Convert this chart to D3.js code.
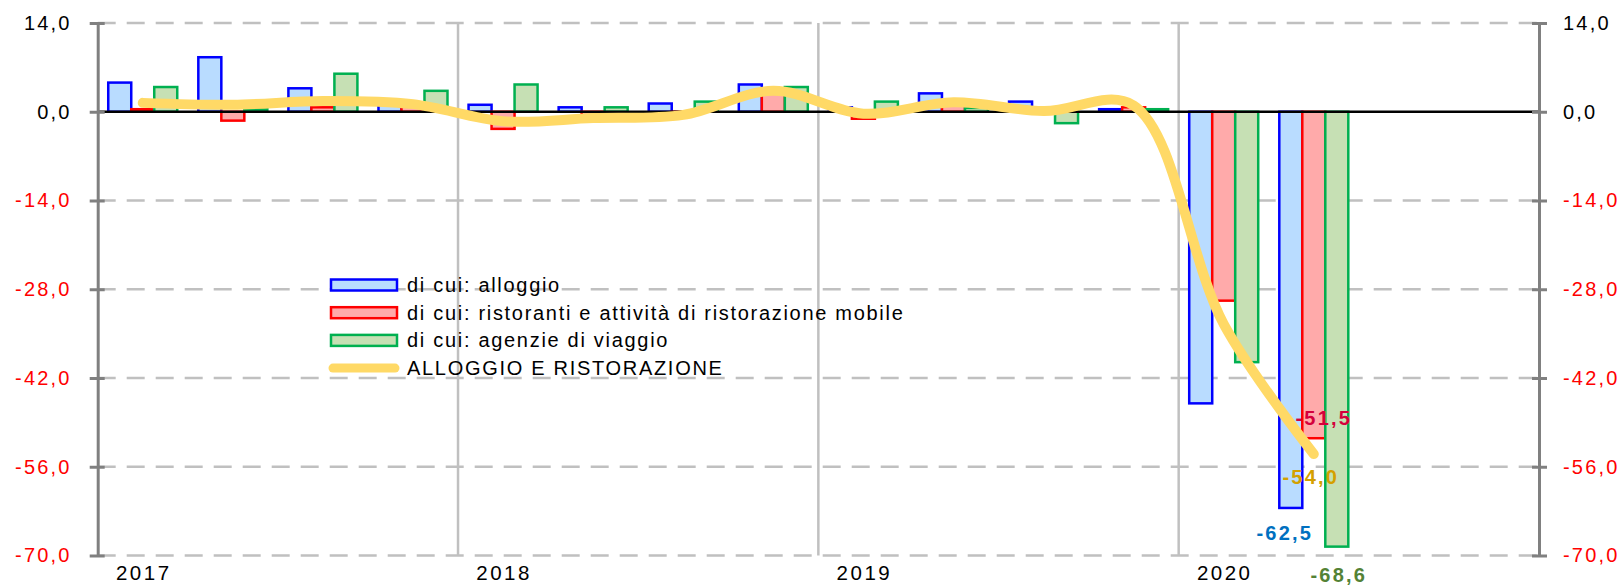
<!DOCTYPE html>
<html>
<head>
<meta charset="utf-8">
<script src="https://cdn.jsdelivr.net/npm/d3@7"></script>
<style>
    body { margin: 0; background: #fff; }
    text { font-family: "Liberation Sans", Arial, sans-serif; }
</style>
</head>
<body>
<div id="ChartWrapper"></div>
<script>
// Quarters from 2017 to 2020 (the last two are still empty)
const quarters = ["2017-T1", "2017-T2", "2017-T3", "2017-T4",
                  "2018-T1", "2018-T2", "2018-T3", "2018-T4",
                  "2019-T1", "2019-T2", "2019-T3", "2019-T4",
                  "2020-T1", "2020-T2", "2020-T3", "2020-T4"];
const years = ["2017", "2018", "2019", "2020"];

const alloggio   = [4.6, 8.6, 3.7, 1.1, 1.1, 0.7, 1.3, 4.3, 0.7, 2.9, 1.6, 0.4, -46.0, -62.5];
const ristoranti = [0.4, -1.4, 0.7, 1.3, -2.7, -0.6, -0.3, 3.4, -1.1, 1.5, 0.2, 0.7, -29.8, -51.5];
const agenzie    = [3.9, 0.4, 6.0, 3.3, 4.3, 0.7, 1.6, 3.9, 1.6, 0.6, -1.8, 0.4, -39.5, -68.6];
const totale     = [1.4, 1.1, 1.7, 1.2, -1.5, -1.0, -0.5, 3.3, -0.3, 1.5, 0.1, 1.0, -33.5, -54.0];

const seriesNames = ["di cui: alloggio",
                     "di cui: ristoranti e attività di ristorazione mobile",
                     "di cui: agenzie di viaggio"];
const lineName = "ALLOGGIO E RISTORAZIONE";
const yTicks = [14, 0, -14, -28, -42, -56, -70];

const Width = 1621, Height = 585;
const Plot = {left: 97.7, right: 1539, top: 23, bottom: 555.5};
const BarStroke = ["#0000ff", "#ff0000", "#00b050"];
const BarFill = ["#b9dcff", "#ffaaaa", "#c6e0b4"];
const LineColor = "#ffd966";

const locale = d3.formatLocale({decimal: ",", thousands: ".", grouping: [3], currency: ["", "€"], minus: "-"});
const fmt = locale.format(".1f");

const Svg = d3.select("#ChartWrapper").append("svg")
    .attr("width", Width).attr("height", Height);

const ScaleX = d3.scaleBand().domain(quarters)
    .range([Plot.left, Plot.right]).paddingInner(0.234).paddingOuter(0.117);
const ScaleSub = d3.scaleBand().domain([0, 1, 2]).range([0, ScaleX.bandwidth()]);
const ScaleY = d3.scaleLinear().domain([14, -70]).range([Plot.top, Plot.bottom]);
const step = ScaleX.step();
const slotCenter = q => ScaleX(q) + ScaleX.bandwidth() / 2;
const barCenter = (q, s) => ScaleX(q) + ScaleSub(s) + ScaleSub.bandwidth() / 2;

// dashed horizontal grid
Svg.append("g").selectAll("line").data(yTicks.filter(v => v != 0)).join("line")
    .attr("x1", Plot.left).attr("x2", Plot.right)
    .attr("y1", v => ScaleY(v)).attr("y2", v => ScaleY(v))
    .attr("stroke", "#c0c0c0").attr("stroke-width", 2.5)
    .attr("stroke-dasharray", "18 11");

// year separators
Svg.append("g").selectAll("line").data(years.slice(1)).join("line")
    .attr("x1", (d, i) => Plot.left + (i + 1) * 4 * step)
    .attr("x2", (d, i) => Plot.left + (i + 1) * 4 * step)
    .attr("y1", Plot.top).attr("y2", Plot.bottom)
    .attr("stroke", "#c0c0c0").attr("stroke-width", 2.5);

// bars
const barData = [alloggio, ristoranti, agenzie];
barData.forEach((vals, s) => {
    Svg.append("g").selectAll("rect").data(vals).join("rect")
        .attr("x", (v, i) => ScaleX(quarters[i]) + ScaleSub(s))
        .attr("width", ScaleSub.bandwidth())
        .attr("y", v => ScaleY(Math.max(0, v)))
        .attr("height", v => Math.abs(ScaleY(v) - ScaleY(0)))
        .attr("fill", BarFill[s]).attr("stroke", BarStroke[s]).attr("stroke-width", 2.5);
});

// zero line
Svg.append("line")
    .attr("x1", Plot.left).attr("x2", Plot.right)
    .attr("y1", ScaleY(0)).attr("y2", ScaleY(0))
    .attr("stroke", "#000").attr("stroke-width", 2.5);

// axes on both sides
function styleAxis(g, side)
{
    g.select(".domain").attr("stroke", "#808080").attr("stroke-width", 3);
    g.selectAll(".tick line").attr("stroke", "#808080").attr("stroke-width", 3)
        .attr("x1", side * -7);
    g.selectAll(".tick text")
        .attr("fill", v => v < 0 ? "#ff0000" : "#000")
        .style("font-size", "20px").style("letter-spacing", "2.2px");
}
const AxisL = d3.axisLeft(ScaleY).tickValues(yTicks).tickFormat(fmt)
    .tickSizeInner(8).tickSizeOuter(0).tickPadding(18);
const AxisR = d3.axisRight(ScaleY).tickValues(yTicks).tickFormat(fmt)
    .tickSizeInner(8).tickSizeOuter(0).tickPadding(16);
Svg.append("g").attr("transform", `translate(${Plot.left},0)`).call(AxisL).call(g => styleAxis(g, -1));
Svg.append("g").attr("transform", `translate(${Plot.right},0)`).call(AxisR).call(g => styleAxis(g, 1));

// year labels under first quarter of each year
Svg.append("g").selectAll("text").data(years).join("text")
    .attr("x", (d, i) => slotCenter(quarters[i * 4]) + 1)
    .attr("y", 580)
    .attr("text-anchor", "middle")
    .style("font-size", "20.5px").style("letter-spacing", "2.5px")
    .text(d => d);

// smoothed total line
const Line = d3.line()
    .x((v, i) => slotCenter(quarters[i]))
    .y(v => ScaleY(v))
    .curve(d3.curveCatmullRom.alpha(0.5));
Svg.append("path").attr("d", Line(totale))
    .attr("fill", "none").attr("stroke", LineColor).attr("stroke-width", 10)
    .attr("stroke-linecap", "round").attr("stroke-linejoin", "round");

// value labels on the last quarter
const last = totale.length - 1;
const lq = quarters[last];
const labels = [
    {t: fmt(ristoranti[last]), c: "#d4003c", x: barCenter(lq, 1) + 10, y: ScaleY(ristoranti[last]) - 20},
    {t: fmt(totale[last]), c: "#d4a000", x: slotCenter(lq) - 3, y: ScaleY(totale[last]) + 23},
    {t: fmt(alloggio[last]), c: "#0070c0", x: barCenter(lq, 0) - 6, y: ScaleY(alloggio[last]) + 25},
    {t: fmt(agenzie[last]), c: "#548235", x: barCenter(lq, 2) + 2, y: ScaleY(agenzie[last]) + 28}
];
Svg.append("g").selectAll("text").data(labels).join("text")
    .attr("x", d => d.x).attr("y", d => d.y).attr("dy", "0.35em")
    .attr("text-anchor", "middle").attr("fill", d => d.c)
    .style("font-size", "20px").style("font-weight", "bold").style("letter-spacing", "2.2px")
    .text(d => d.t);

// legend
const Legend = Svg.append("g").attr("transform", "translate(331,285)");
const rowH = 27.7;
seriesNames.forEach((name, i) => {
    Legend.append("rect").attr("x", 0).attr("y", i * rowH - 5.5)
        .attr("width", 66).attr("height", 11)
        .attr("fill", BarFill[i]).attr("stroke", BarStroke[i]).attr("stroke-width", 2.5);
});
Legend.append("line").attr("x1", 2).attr("x2", 64)
    .attr("y1", 3 * rowH).attr("y2", 3 * rowH)
    .attr("stroke", LineColor).attr("stroke-width", 9).attr("stroke-linecap", "round");
Legend.selectAll("text").data(seriesNames.concat([lineName])).join("text")
    .attr("x", 76).attr("y", (d, i) => i * rowH).attr("dy", "0.35em")
    .style("font-size", "20px").style("letter-spacing", "1.7px")
    .text(d => d);
</script>
</body>
</html>
